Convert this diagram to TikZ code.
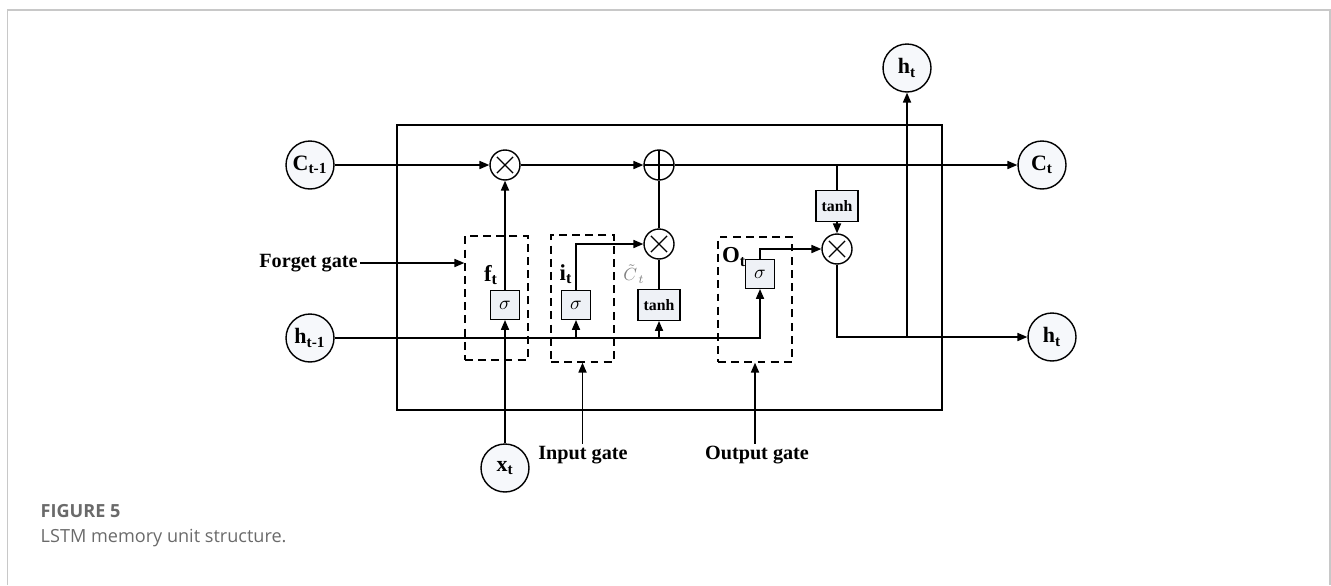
\documentclass[tikz,border=0pt]{standalone}
\usepackage{fontspec}
\setmainfont{Liberation Serif}
\newfontfamily\capfont{Open Sans}
\usetikzlibrary{arrows.meta, positioning, calc}
\definecolor{boxfill}{HTML}{EEF1F6}
\definecolor{cellfill}{HTML}{F6F8FB}
\definecolor{capgray}{HTML}{6A6A6A}
\definecolor{framegray}{HTML}{C8C8C8}

\begin{document}
\begin{tikzpicture}[x=0.02cm, y=-0.02cm, line width=0.8pt,
  io/.style={circle, draw, fill=cellfill, minimum size=0.96cm, inner sep=0pt, font=\fontsize{12.5}{14}\selectfont\bfseries},
  op/.style={circle, draw, fill=white, minimum size=0.6cm, inner sep=0pt},
  mulop/.style={op, path picture={\draw[line width=0.7pt] (path picture bounding box.center) +(-4.6pt,-4.6pt) -- +(4.6pt,4.6pt) +(-4.6pt,4.6pt) -- +(4.6pt,-4.6pt);}},
  addop/.style={op, path picture={\draw[line width=0.7pt] (path picture bounding box.north) -- (path picture bounding box.south) (path picture bounding box.west) -- (path picture bounding box.east);}},
  sig/.style={draw, fill=boxfill, minimum width=0.58cm, minimum height=0.58cm, inner sep=0pt, line width=0.6pt, font=\fontsize{11}{12}\selectfont},
  act/.style={draw, fill=boxfill, minimum width=0.84cm, minimum height=0.62cm, inner sep=0pt, line width=0.6pt, font=\fontsize{9}{10}\selectfont\bfseries},
  gatebox/.style={draw, dash pattern=on 4.5pt off 3pt, inner sep=0pt},
  lbl/.style={font=\fontsize{11.5}{13}\selectfont\bfseries, inner sep=1pt},
  glbl/.style={font=\fontsize{13}{14}\selectfont\bfseries, inner sep=0pt},
  arrow/.style={-{Triangle[length=5.6pt, width=4.6pt]}}
]
\path[use as bounding box] (0,0) rectangle (1331,585);
\draw[framegray, line width=1pt] (7.5,585) -- (7.5,10) -- (1330,10) -- (1330,585);

\node[draw, minimum width=10.9cm, minimum height=5.7cm, inner sep=0pt] (unit) at (669.5,267.5) {};
\node[gatebox, minimum width=1.26cm, minimum height=2.48cm] (fgate) at (496.5,298) {};
\node[gatebox, minimum width=1.26cm, minimum height=2.54cm] (igate) at (582.5,298.5) {};
\node[gatebox, minimum width=1.48cm, minimum height=2.5cm] (ogate) at (755,299.5) {};

\node[io] (cprev) at (310,165) {C\textsubscript{t-1}};
\node[io] (hprev) at (310,338) {h\textsubscript{t-1}};
\node[io] (xt) at (505,468) {x\textsubscript{t}};
\node[io] (ct) at (1042,165) {C\textsubscript{t}};
\node[io] (htop) at (907,68) {h\textsubscript{t}};
\node[io] (hout) at (1052,337) {h\textsubscript{t}};

\node[mulop] (mf) at (505,165) {};
\node[addop] (add) at (659,165) {};
\node[mulop] (mi) at (659,244) {};
\node[mulop] (mo) at (837,249) {};

\node[sig] (sf) at (505,305) {$\sigma$};
\node[sig] (si) at (576,305) {$\sigma$};
\node[act] (tc) at (659,305) {tanh};
\node[sig] (so) at (760,274) {$\sigma$};
\node[act] (th) at (837,206) {tanh};

\node[glbl] (fl) at (491,275) {f\textsubscript{t}};
\node[glbl] (il) at (566,274) {i\textsubscript{t}};
\node[glbl] (ol) at (734,257) {O\textsubscript{t}};
\node[text=gray, inner sep=0pt, font=\fontsize{10}{12}\selectfont] (cl) at (634,274) {$\tilde{C}_{\,t}$};

\node[lbl, anchor=east] (fgl) at (360,263) {Forget gate};
\node[lbl] (igl) at (583,455) {Input gate};
\node[lbl] (ogl) at (757,455) {Output gate};

\draw[arrow] (cprev) -- (mf);
\draw[arrow] (mf) -- (add);
\draw[arrow] (add) -- (ct);
\draw[arrow] (xt) -- (sf);
\draw[arrow] (sf) -- (mf);
\draw[arrow] (hprev) -| (so);
\draw[arrow] (si.south |- hprev) -- (si);
\draw[arrow] (tc.south |- hprev) -- (tc);
\draw[arrow] (si) |- (mi);
\draw (tc) -- (mi);
\draw (mi) -- (add);
\draw (th.north |- add) -- (th);
\draw[arrow] (th) -- (mo);
\draw[arrow] (so) |- (mo);
\draw[arrow] (mo) |- (hout);
\coordinate (split) at (htop |- hout);
\draw[arrow] (split) -- (htop);
\draw[arrow] (fgl.east) -- (fgl.east -| fgate.west);
\draw[arrow] (igl.north -| igate.south) -- (igate.south);
\draw[arrow] (ogl.north -| ogate.south) -- (ogate.south);

\node[anchor=base west, inner sep=0pt, text=capgray, font=\fontsize{10.3}{12}\selectfont\capfont\bfseries] (fig) at (40,517) {FIGURE 5};
\node[anchor=base west, inner sep=0pt, text=capgray, font=\fontsize{10.3}{12}\selectfont\capfont] (cap) at (40,542) {LSTM memory unit structure.};
\end{tikzpicture}
\end{document}
